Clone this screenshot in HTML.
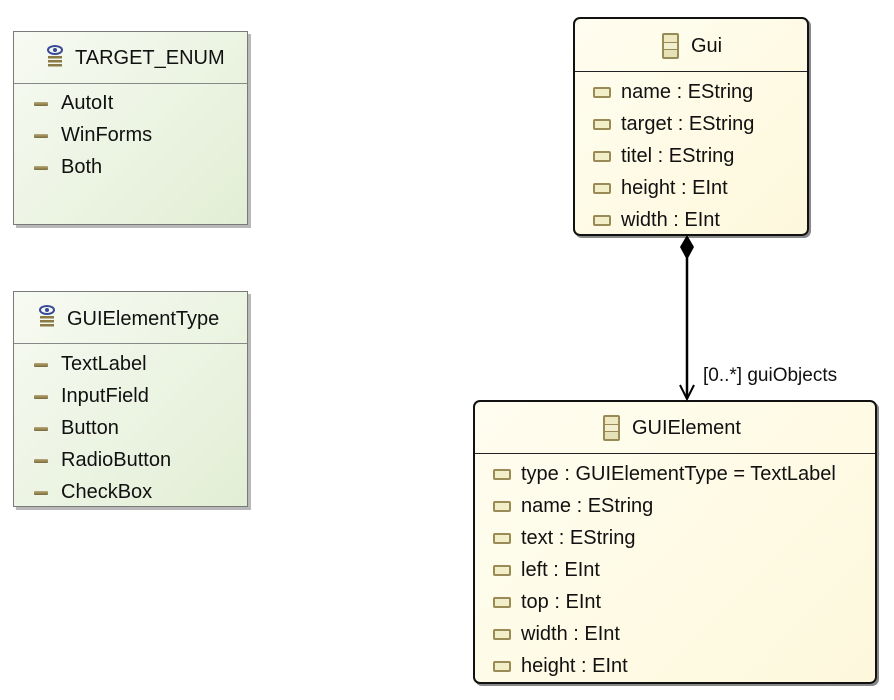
<!DOCTYPE html>
<html><head><meta charset="utf-8"><style>
body{margin:0;width:894px;height:700px;background:#fff;position:relative;overflow:hidden;font-family:"Liberation Sans",sans-serif;font-size:20px;color:#111}
.box{position:absolute;border:1px solid #7a7a7a;box-shadow:3px 3px 0 #b8b8b8}
.enum{background:linear-gradient(135deg,#f7faf2,#e2eed5)}
.cls{background:linear-gradient(135deg,#fffdf0,#fdf8dc);border:2px solid #111;border-radius:7px;box-shadow:2px 2px 0 #888}
.hdr{position:absolute;left:0;right:0;border-bottom:1px solid #888}
.cls .hdr{border-bottom:1px solid #222}
.t{position:absolute;white-space:nowrap}
.lit{position:absolute;width:14px;height:4px;background:linear-gradient(#b9a878,#7a6a3a);border-radius:1px}
.att{position:absolute;width:14px;height:7px;border:2px solid #9a8a55;background:#f2efc8;border-radius:2px}
.ci{position:absolute;width:17px;height:26px;border:2px solid #9a8a55;background:linear-gradient(#eee9c0 0 31%,#9a8a55 31% 37%,#f2efd0 37% 63%,#9a8a55 63% 69%,#e6e2b8 69%);border-radius:2px;box-sizing:border-box}
.ei{position:absolute}
</style></head><body>

<div class="box enum" style="left:13px;top:31px;width:233px;height:192px">
  <div class="hdr" style="top:0;height:51px"></div>
  <svg class="ei" style="left:31px;top:13px" width="20" height="24"><ellipse cx="10" cy="5" rx="7" ry="4" fill="none" stroke="#3a4a9a" stroke-width="2"/><circle cx="10" cy="5" r="2" fill="#3a4a9a"/><g fill="#8a7a45"><rect x="3" y="11" width="14" height="2.5"/><rect x="3" y="15" width="14" height="2.5"/><rect x="3" y="19" width="14" height="2.5"/></g></svg>
  <div class="t" style="left:61px;top:15px">TARGET_ENUM</div>
  <div class="lit" style="left:20px;top:70px"></div><div class="t" style="left:47px;top:60px">AutoIt</div>
  <div class="lit" style="left:20px;top:102px"></div><div class="t" style="left:47px;top:92px">WinForms</div>
  <div class="lit" style="left:20px;top:134px"></div><div class="t" style="left:47px;top:124px">Both</div>
</div>

<div class="box enum" style="left:13px;top:291px;width:233px;height:214px">
  <div class="hdr" style="top:0;height:51px"></div>
  <svg class="ei" style="left:23px;top:13px" width="20" height="24"><ellipse cx="10" cy="5" rx="7" ry="4" fill="none" stroke="#3a4a9a" stroke-width="2"/><circle cx="10" cy="5" r="2" fill="#3a4a9a"/><g fill="#8a7a45"><rect x="3" y="11" width="14" height="2.5"/><rect x="3" y="15" width="14" height="2.5"/><rect x="3" y="19" width="14" height="2.5"/></g></svg>
  <div class="t" style="left:53px;top:16px">GUIElementType</div>
  <div class="lit" style="left:20px;top:71px"></div><div class="t" style="left:47px;top:61px">TextLabel</div>
  <div class="lit" style="left:20px;top:103px"></div><div class="t" style="left:47px;top:93px">InputField</div>
  <div class="lit" style="left:20px;top:135px"></div><div class="t" style="left:47px;top:125px">Button</div>
  <div class="lit" style="left:20px;top:167px"></div><div class="t" style="left:47px;top:157px">RadioButton</div>
  <div class="lit" style="left:20px;top:199px"></div><div class="t" style="left:47px;top:189px">CheckBox</div>
</div>

<div class="box cls" style="left:573px;top:17px;width:232px;height:215px">
  <div class="hdr" style="top:0;height:52px"></div>
  <div class="ci" style="left:87px;top:14px"></div>
  <div class="t" style="left:116px;top:16px">Gui</div>
  <div class="att" style="left:18px;top:68px"></div><div class="t" style="left:46px;top:62px">name : EString</div>
  <div class="att" style="left:18px;top:100px"></div><div class="t" style="left:46px;top:94px">target : EString</div>
  <div class="att" style="left:18px;top:132px"></div><div class="t" style="left:46px;top:126px">titel : EString</div>
  <div class="att" style="left:18px;top:164px"></div><div class="t" style="left:46px;top:158px">height : EInt</div>
  <div class="att" style="left:18px;top:196px"></div><div class="t" style="left:46px;top:190px">width : EInt</div>
</div>

<div class="box cls" style="left:473px;top:400px;width:400px;height:280px">
  <div class="hdr" style="top:0;height:51px"></div>
  <div class="ci" style="left:128px;top:13px"></div>
  <div class="t" style="left:157px;top:15px">GUIElement</div>
  <div class="att" style="left:18px;top:67px"></div><div class="t" style="left:46px;top:61px">type : GUIElementType = TextLabel</div>
  <div class="att" style="left:18px;top:99px"></div><div class="t" style="left:46px;top:93px">name : EString</div>
  <div class="att" style="left:18px;top:131px"></div><div class="t" style="left:46px;top:125px">text : EString</div>
  <div class="att" style="left:18px;top:163px"></div><div class="t" style="left:46px;top:157px">left : EInt</div>
  <div class="att" style="left:18px;top:195px"></div><div class="t" style="left:46px;top:189px">top : EInt</div>
  <div class="att" style="left:18px;top:227px"></div><div class="t" style="left:46px;top:221px">width : EInt</div>
  <div class="att" style="left:18px;top:259px"></div><div class="t" style="left:46px;top:253px">height : EInt</div>
</div>

<svg style="position:absolute;left:0;top:0" width="894" height="700">
  <polygon points="687,235 694,247 687,260 680,247" fill="#000"/>
  <line x1="687" y1="258" x2="687" y2="399" stroke="#000" stroke-width="2.5"/>
  <polyline points="680,385 687,399 694,385" fill="none" stroke="#000" stroke-width="2"/>
</svg>
<div class="t" style="left:703px;top:365px;font-size:19px">[0..*] guiObjects</div>
</body></html>
